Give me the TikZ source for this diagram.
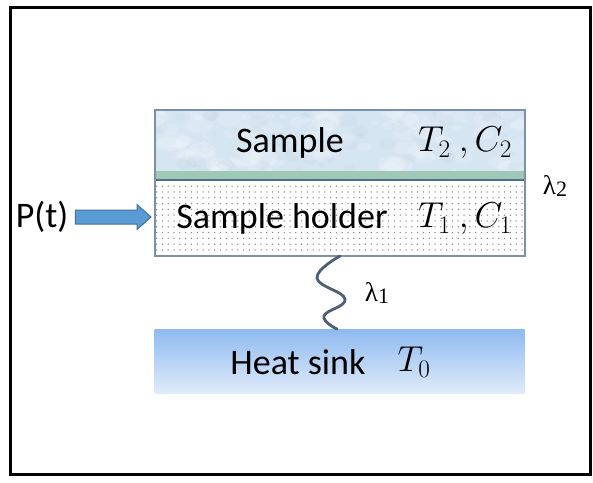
\RequirePackage{fix-cm}
\documentclass[tikz,border=0pt]{standalone}
\usepackage{fontspec}
\setmainfont{Carlito}
\newfontfamily\lamfont{Liberation Serif}
\usetikzlibrary{patterns.meta,calc}

\definecolor{samplefill}{RGB}{214,229,242}
\definecolor{edgec}{RGB}{125,145,165}
\definecolor{bandc}{RGB}{160,200,182}
\definecolor{bandline}{RGB}{80,110,140}
\definecolor{sinktop}{RGB}{142,186,240}
\definecolor{sinkbot}{RGB}{224,235,250}
\definecolor{arrowfill}{RGB}{91,155,213}
\definecolor{arrowedge}{RGB}{65,113,156}
\definecolor{wirec}{RGB}{75,95,120}
\definecolor{dotc}{RGB}{135,135,135}

\begin{document}
\begin{tikzpicture}[x=1pt,y=-1pt,
  txt/.style={font=\fontsize{36}{40}\selectfont, inner sep=0pt},
  lam/.style={font=\lamfont\fontsize{27}{30}\selectfont, inner sep=0pt},
  layer/.style={minimum width=370pt, inner sep=0pt, outer sep=0pt},
  wire/.style={draw=wirec, line width=2.8pt, line cap=round},
  blockarrow/.style={draw=arrowedge, fill=arrowfill, line width=1pt, line join=miter}]
\useasboundingbox (0,0) rectangle (593,482);

% outer frame
\draw[line width=3pt] (10,7) rectangle (590,474);

% stacked layers
\node[layer, fill=samplefill, minimum height=61pt] (sample) at (340,140.5) {};
\begin{scope}
  \clip (sample.north west) rectangle (sample.south east);
  \pgfmathsetseed{7}
  \foreach \i in {1,...,90}{
    \pgfmathsetmacro{\px}{155+370*rnd}
    \pgfmathsetmacro{\py}{110+61*rnd}
    \pgfmathsetmacro{\pr}{2+7*rnd}
    \fill[white, opacity=0.16] (\px,\py) ellipse ({\pr*1.8} and \pr);
  }
  \foreach \i in {1,...,50}{
    \pgfmathsetmacro{\px}{155+370*rnd}
    \pgfmathsetmacro{\py}{110+61*rnd}
    \pgfmathsetmacro{\pr}{2+5*rnd}
    \fill[samplefill!70!black, opacity=0.05] (\px,\py) ellipse ({\pr*1.5} and \pr);
  }
\end{scope}
\node[layer, fill=bandc, minimum height=9pt] (band) at (340,175.5) {};
\node[layer, minimum height=76pt, preaction={fill=white},
      pattern={Dots[distance=5.8pt,radius=0.75pt]}, pattern color=dotc] (holder) at (340,218) {};
\draw[bandline, line width=2pt] (band.south west) -- (band.south east);
\draw[edgec, line width=1.3pt] (sample.north west) rectangle (holder.south east);

% heat sink
\node[layer, minimum height=64pt, top color=sinktop, bottom color=sinkbot] (sink) at (339.5,361) {};

% labels
\node[txt] (tsample) at (290,143) {Sample};
\node[txt] (tsamplevars) at (465,143) {$T_2\ ,C_2$};
\node[txt] (tholder) at (282,219) {Sample holder};
\node[txt] (tholdervars) at (465,219) {$T_1\ ,C_1$};
\node[txt] (tsink) at (298,362) {Heat sink};
\node[txt] (tsinkvar) at (414,362) {$T_0$};
\node[txt] (power) at (42,217) {P(t)};
\node[lam] (lam1) at (377,293) {λ\raisebox{-2pt}{\fontsize{22}{24}\selectfont 1}};
\node[lam] (lam2) at (555,186) {λ\raisebox{-2pt}{\fontsize{22}{24}\selectfont 2}};

% power input arrow, from the P(t) label to the holder
\coordinate (atail) at ($(power.east)+(7,0)$);
\coordinate (atip) at ($(holder.west)+(-4,-1)$);
\draw[blockarrow] ($(atail)+(0,-7)$) -- ($(atip)+(-14,-7)$) -- ($(atip)+(-14,-12.5)$)
  -- (atip) -- ($(atip)+(-14,12.5)$) -- ($(atip)+(-14,7)$) -- ($(atail)+(0,7)$) -- cycle;

% thermal link holder -> sink
\coordinate (wtop) at (holder.south -| 340,0);
\coordinate (wbot) at (sink.north -| 337,0);
\draw[wire] plot[smooth, tension=0.75] coordinates
  {(wtop) (317,278) (345,299) (324,316) (wbot)};
\end{tikzpicture}
\end{document}
